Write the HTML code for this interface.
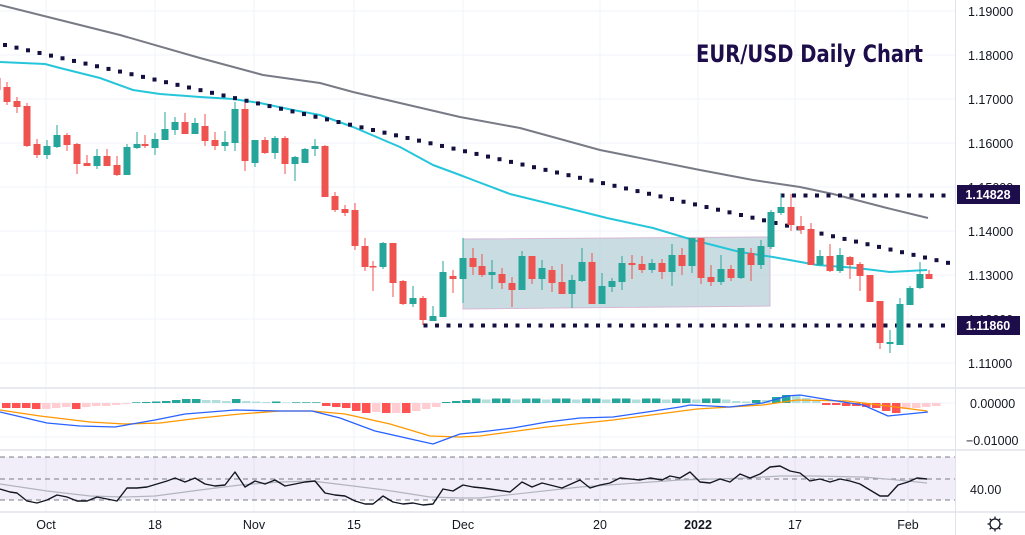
<!DOCTYPE html>
<html><head><meta charset="utf-8"><style>
html,body{margin:0;padding:0;background:#fff;}
svg{display:block;font-family:"Liberation Sans",sans-serif;}
</style></head><body>
<svg id="s" width="1025" height="535" xmlns="http://www.w3.org/2000/svg"></svg>
<script>
const s=document.getElementById('s');let h='';
const G='#26a69a',R='#ef5350';
for(let k=0;k<9;k++){const y=11+44*k;h+=`<line x1="0" y1="${y}" x2="955" y2="${y}" stroke="#f0f3fa"/>`;}
[46,155,254,354,463,600,698,795,908].forEach(x=>{h+=`<line x1="${x}" y1="0" x2="${x}" y2="512" stroke="#f0f3fa"/>`;});
[403,437].forEach(y=>h+=`<line x1="0" y1="${y}" x2="955" y2="${y}" stroke="#f0f3fa"/>`);
h+=`<rect x="0" y="457" width="955" height="43" fill="#7e57c2" fill-opacity="0.1"/>`;
[457,479,500].forEach(y=>h+=`<line x1="0" y1="${y}" x2="955" y2="${y}" stroke="#787b86" stroke-dasharray="5,4"/>`);
h+=`<polygon points="463,239 770,237 770,306 463,309" fill="#b0cdd6" fill-opacity="0.7" stroke="#d6b8d4" stroke-width="1"/>`;
const pl=(p,c,w)=>`<polyline fill="none" stroke="${c}" stroke-width="${w}" stroke-linejoin="round" points="${p}"/>`;
h+=pl("0,5 60,20 120,35 200,58 263,75 320,83 353,92 400,103 460,117 520,128 600,150 700,170 753,180 800,187 833,194 887,208 928,218",'#787b86',2);
h+=pl("0,62 45,64 60,68 100,78 133,90 160,94 200,97 233,99 260,103 293,110 320,115 353,127 400,147 433,165 460,175 473,180 510,194 567,208 607,218 653,228 693,240 740,252 773,257 817,265 857,268 890,272 927,270",'#26c6da',2);
for(let x=5;x<955;x+=11.5){const y=45+(x-5)*0.231;h+=`<rect x="${x-2}" y="${y-2}" width="4" height="4" fill="#131040"/>`;}
for(let x=782;x<952;x+=11.5)h+=`<rect x="${x-1.5}" y="193.5" width="4" height="4" fill="#131040"/>`;
for(let x=425;x<952;x+=11.5)h+=`<rect x="${x-1.5}" y="323.5" width="4" height="4" fill="#131040"/>`;
const C=[[-3,0,78,90,72,95],[7,0,87,102,82,105],[17,0,101,107,97,113],[27,0,106,146,103,147],[37,0,144,155,139,158],[47,1,146,155,140,159],[57,1,135,147,125,148],[67,0,135,145,133,151],[77,0,144,164,143,174],[87,0,163,166,155,166],[97,1,156,166,149,169],[107,0,156,166,149,166],[117,0,165,175,156,176],[127,1,147,175,144,175],[137,1,144,148,132,149],[145,0,144,146,135,148],[155,1,139,148,133,155],[165,1,129,140,112,140],[175,1,122,130,117,135],[185,0,122,134,113,134],[195,1,123,134,118,134],[205,0,126,141,114,146],[215,0,140,146,132,150],[225,1,142,146,131,151],[235,1,109,143,102,151],[245,0,109,161,103,171],[255,1,140,163,140,167],[265,0,140,153,137,154],[275,1,138,153,136,159],[285,0,138,164,136,174],[295,1,157,164,156,181],[305,1,149,163,148,163],[315,1,146,149,139,156],[325,0,146,197,145,197],[335,0,196,210,192,212],[345,0,209,213,205,216],[355,0,210,246,203,250],[365,0,246,267,238,271],[373,0,266,267,261,291],[383,1,243,267,242,269],[393,0,243,283,243,297],[403,0,281,304,280,305],[413,1,298,304,286,307],[423,0,298,320,296,325],[433,1,316,321,306,321],[443,1,272,317,261,317],[453,0,276,279,270,293],
[463,1,258,279,238,303],[473,0,258,267,248,275],[482,0,266,275,254,277],[492,1,272,275,260,289],[502,0,274,283,268,289],[512,0,283,290,277,307],[522,1,256,290,251,290],[532,0,256,279,256,284],[542,1,268,279,260,290],[552,0,270,283,266,292],[562,0,282,294,264,294],[572,1,280,294,275,308],[582,1,262,281,248,282],[592,0,262,304,253,304],[602,1,286,304,273,304],[612,1,281,287,278,292],[622,1,263,282,256,290],[632,0,263,265,255,279],[642,0,264,270,256,273],[652,1,263,270,259,273],[662,0,263,272,259,279],[672,1,255,272,244,286],[682,0,255,266,248,275],[692,1,238,266,238,273],[701,0,238,278,238,284],[711,0,277,282,265,286],[721,1,269,282,255,285],[731,0,269,278,265,281],[741,1,248,278,248,279],[751,0,253,265,248,281],[761,1,246,265,240,269],[771,1,212,247,210,249],[781,1,207,213,194,215],[791,0,207,225,194,231],[801,0,226,230,216,234],[811,0,229,265,223,265],[820,1,256,265,250,266],[830,0,256,271,244,272],[840,1,255,271,248,273],[850,0,257,265,256,279],[860,0,264,276,262,291],[870,0,275,302,285,302],[880,0,301,343,301,349],[890,1,342,344,330,353],[900,1,304,345,298,345],[910,1,288,305,286,305],[920,1,274,288,262,289],[929,0,274,279,270,279]];
C.forEach(c=>{const col=c[1]?G:R;h+=`<line x1="${c[0]}" y1="${c[4]}" x2="${c[0]}" y2="${c[5]}" stroke="${col}"/><rect x="${c[0]-3.5}" y="${c[2]}" width="7" height="${Math.max(1.5,c[3]-c[2])}" fill="${col}"/>`;});
const HR='#ff5252',HP='#ffcdd2',HG='#26a69a',HL='#b2dfdb';
const Hs=[[-5,HR],[-5,HR],[-5,HR],[-6,HR],[-6,HP],[-5,HP],[-4,HP],[-6,HR],[-4,HP],[-3,HP],[-3,HP],[-2,HP],[-1,HP],[0.7,HG],[1,HG],[1.5,HG],[2,HG],[3,HG],[4,HG],[4,HG],[3,HL],[3,HL],[2,HL],[4,HG],[2,HL],[1.5,HL],[1,HL],[1.5,HG],[0.7,HL],[0.7,HG],[0.7,HG],[0.7,HG],[-3,HR],[-4,HR],[-5,HR],[-8,HR],[-10,HR],[-9,HP],[-10,HR],[-10,HP],[-10,HR],[-8,HP],[-6,HP],[-4,HP],[1,HG],[2,HG],[3,HG]];
for(let i=0;i<26;i++){const t=i%3;Hs.push([t==1?3.5:4.5,t==1?HL:HG]);}
Hs.push([2,HL],[1.5,HL],[3,HG],[3,HL],[6,HG],[8,HG],[8,HL],[5,HL],[2,HL],[-2,HR],[-2,HR],[-3,HR],[-3,HR],[-4,HR],[-5,HR],[-8,HR],[-10,HR],[-6,HP],[-5,HP],[-4,HP],[-3,HP]);
Hs.forEach((b,i)=>{const x=2+i*10;const y=b[0]>0?403-b[0]:403;h+=`<rect x="${x}" y="${y}" width="8.5" height="${Math.abs(b[0])}" fill="${b[1]}"/>`;});
h+=pl("0,410 40,416 90,422 125,424 160,423 200,418 240,414 280,411 312,411 345,414 390,424 430,436 460,437 480,436 547,427 613,420 697,409 763,405 797,400 847,401 880,405 927,411",'#ff9800',1.3);
h+=pl("0,412 47,423 80,426 115,427 155,420 185,414 235,410 280,411 312,411 340,418 375,431 415,440 433,444 460,434 480,432 513,428 547,422 580,418 613,417 647,412 680,407 690,405 730,407 763,403 787,396 800,395 830,400 863,405 888,416 928,412",'#2962ff',1.3);
h+=pl("0,484 47,491 90,496 125,497 155,496 200,490 240,485 280,482 312,481 345,485 385,490 430,497 460,498 480,498 580,487 680,480 747,478 780,476 813,476 863,477 897,480 927,483",'#b2b5be',1.2);
h+=pl("0,489 10,492 17,493 27,501 37,503 47,500 57,495 67,497 77,501 87,501 97,497 107,499 117,501 127,488 137,488 147,487 157,484 167,481 175,478 185,482 195,478 205,484 215,486 225,485 235,472 245,487 255,481 265,484 275,480 285,486 295,484 305,482 315,481 325,493 335,495 345,496 355,501 365,504 373,504 383,496 393,502 403,504 413,503 423,505 433,504 443,489 453,491 463,485 473,487 483,488 490,489 510,492 522,482 532,487 542,483 562,488 580,480 590,488 600,485 610,483 620,478 640,480 650,478 662,480 670,476 680,478 690,472 700,482 710,483 720,479 730,482 740,474 750,478 760,474 770,467 780,466 790,471 800,473 810,481 820,479 830,482 840,479 850,481 860,484 870,490 880,496 888,496 898,485 908,482 917,478 927,479",'#131722',1.4);
[388,450,512].forEach(y=>h+=`<line x1="0" y1="${y}" x2="1025" y2="${y}" stroke="#e0e3eb" stroke-width="1.5"/>`);
h+=`<line x1="955.5" y1="0" x2="955.5" y2="535" stroke="#e0e3eb"/>`;
h+=`<text x="696" y="62" font-size="24" font-weight="bold" fill="#1d0d4a" textLength="227" lengthAdjust="spacingAndGlyphs" font-family="DejaVu Sans,sans-serif">EUR/USD Daily Chart</text>`;
[[1.19,0],[1.18,1],[1.17,2],[1.16,3],[1.15,4],[1.14,5],[1.13,6],[1.12,7],[1.11,8]].forEach(p=>{h+=`<text x="968" y="${11+44*p[1]+5}" font-size="12.5" fill="#131722">${p[0].toFixed(5)}</text>`;});
h+=`<rect x="957" y="185" width="63" height="19" fill="#1d0d4a"/><text x="988" y="199" font-size="12.5" font-weight="bold" fill="#fff" text-anchor="middle">1.14828</text>`;
h+=`<rect x="957" y="316" width="63" height="19" fill="#1d0d4a"/><text x="988" y="330" font-size="12.5" font-weight="bold" fill="#fff" text-anchor="middle">1.11860</text>`;
h+=`<text x="970" y="408" font-size="12.5" fill="#131722">0.00000</text><text x="966" y="445" font-size="12.5" fill="#131722">−0.01000</text><text x="970" y="494" font-size="12.5" fill="#131722">40.00</text>`;
[[46,'Oct'],[155,'18'],[254,'Nov'],[354,'15'],[463,'Dec'],[600,'20'],[698,'2022'],[795,'17'],[908,'Feb']].forEach(t=>{h+=`<text x="${t[0]}" y="529" font-size="12.5" fill="#131722" text-anchor="middle"${t[1]=='2022'?' font-weight="bold"':''}>${t[1]}</text>`;});
h+=`<circle cx="995" cy="524" r="5" fill="none" stroke="#131722" stroke-width="1.3"/>`;
for(let a=0;a<8;a++){const r=a*Math.PI/4;h+=`<line x1="${995+5*Math.cos(r)}" y1="${524+5*Math.sin(r)}" x2="${995+7.5*Math.cos(r)}" y2="${524+7.5*Math.sin(r)}" stroke="#131722" stroke-width="1.3"/>`;}
s.innerHTML=h;
</script>
</body></html>
